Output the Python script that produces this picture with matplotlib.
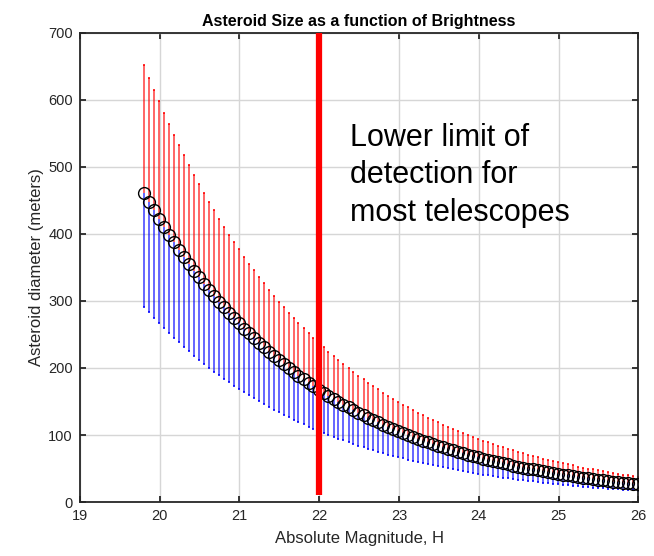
import matplotlib
matplotlib.use("Agg")
import matplotlib.pyplot as plt

plt.rcParams['font.family'] = ['Liberation Sans', 'DejaVu Sans']

# absolute magnitude H (100 points, 19.8 .. 26)
H = [19.800, 19.863, 19.925, 19.988, 20.051, 20.113, 20.176, 20.238, 20.301, 20.364,
     20.426, 20.489, 20.552, 20.614, 20.677, 20.739, 20.802, 20.865, 20.927, 20.990,
     21.053, 21.115, 21.178, 21.240, 21.303, 21.366, 21.428, 21.491, 21.554, 21.616,
     21.679, 21.741, 21.804, 21.867, 21.929, 21.992, 22.055, 22.117, 22.180, 22.242,
     22.305, 22.368, 22.430, 22.493, 22.556, 22.618, 22.681, 22.743, 22.806, 22.869,
     22.931, 22.994, 23.057, 23.119, 23.182, 23.244, 23.307, 23.370, 23.432, 23.495,
     23.558, 23.620, 23.683, 23.745, 23.808, 23.871, 23.933, 23.996, 24.059, 24.121,
     24.184, 24.246, 24.309, 24.372, 24.434, 24.497, 24.560, 24.622, 24.685, 24.747,
     24.810, 24.873, 24.935, 24.998, 25.061, 25.123, 25.186, 25.248, 25.311, 25.374,
     25.436, 25.499, 25.562, 25.624, 25.687, 25.749, 25.812, 25.875, 25.937, 26.000]

# nominal diameter in meters (black circles)
d_mid = [460.8, 447.7, 435.0, 422.6, 410.6, 398.9, 387.6, 376.6, 365.9, 355.5,
         345.4, 335.5, 326.0, 316.7, 307.7, 299.0, 290.5, 282.2, 274.2, 266.4,
         258.8, 251.5, 244.3, 237.4, 230.6, 224.1, 217.7, 211.5, 205.5, 199.7,
         194.0, 188.5, 183.1, 177.9, 172.9, 167.9, 163.2, 158.5, 154.0, 149.6,
         145.4, 141.3, 137.2, 133.3, 129.5, 125.9, 122.3, 118.8, 115.4, 112.1,
         109.0, 105.9, 102.9, 99.9, 97.1, 94.3, 91.7, 89.0, 86.5, 84.1,
         81.7, 79.3, 77.1, 74.9, 72.8, 70.7, 68.7, 66.7, 64.8, 63.0,
         61.2, 59.5, 57.8, 56.1, 54.5, 53.0, 51.5, 50.0, 48.6, 47.2,
         45.9, 44.6, 43.3, 42.1, 40.9, 39.7, 38.6, 37.5, 36.4, 35.4,
         34.4, 33.4, 32.5, 31.5, 30.6, 29.8, 28.9, 28.1, 27.3, 26.5]

# upper diameter (red stems)
d_high = [651.7, 633.1, 615.2, 597.7, 580.7, 564.1, 548.1, 532.6, 517.5, 502.7,
          488.4, 474.5, 461.0, 447.9, 435.2, 422.8, 410.8, 399.1, 387.8, 376.8,
          366.0, 355.6, 345.5, 335.7, 326.2, 316.9, 307.9, 299.1, 290.6, 282.4,
          274.3, 266.5, 259.0, 251.6, 244.4, 237.5, 230.7, 224.2, 217.8, 211.6,
          205.6, 199.8, 194.1, 188.6, 183.2, 178.0, 172.9, 168.0, 163.2, 158.6,
          154.1, 149.7, 145.5, 141.3, 137.3, 133.4, 129.6, 125.9, 122.3, 118.9,
          115.5, 112.2, 109.0, 105.9, 102.9, 100.0, 97.1, 94.4, 91.7, 89.1,
          86.6, 84.1, 81.7, 79.4, 77.1, 74.9, 72.8, 70.7, 68.7, 66.8,
          64.9, 63.0, 61.2, 59.5, 57.8, 56.2, 54.6, 53.0, 51.5, 50.0,
          48.6, 47.2, 45.9, 44.6, 43.3, 42.1, 40.9, 39.7, 38.6, 37.5]

# lower diameter (blue stems)
d_low = [291.4, 283.1, 275.1, 267.3, 259.7, 252.3, 245.1, 238.2, 231.4, 224.8,
         218.4, 212.2, 206.2, 200.3, 194.6, 189.1, 183.7, 178.5, 173.4, 168.5,
         163.7, 159.0, 154.5, 150.1, 145.9, 141.7, 137.7, 133.8, 130.0, 126.3,
         122.7, 119.2, 115.8, 112.5, 109.3, 106.2, 103.2, 100.3, 97.4, 94.6,
         91.9, 89.3, 86.8, 84.3, 81.9, 79.6, 77.3, 75.1, 73.0, 70.9,
         68.9, 67.0, 65.0, 63.2, 61.4, 59.7, 58.0, 56.3, 54.7, 53.2,
         51.6, 50.2, 48.8, 47.4, 46.0, 44.7, 43.4, 42.2, 41.0, 39.8,
         38.7, 37.6, 36.5, 35.5, 34.5, 33.5, 32.6, 31.6, 30.7, 29.9,
         29.0, 28.2, 27.4, 26.6, 25.8, 25.1, 24.4, 23.7, 23.0, 22.4,
         21.7, 21.1, 20.5, 19.9, 19.4, 18.8, 18.3, 17.8, 17.3, 16.8]

limit_H = 22.0
limit_y = [10, 700]

fig = plt.figure(figsize=(6.54, 5.56), dpi=100)
ax = fig.add_axes([0.122, 0.097, 0.854, 0.844])

# stems up (red) and down (blue)
ax.vlines(H, d_mid, d_high, colors='red', linewidth=1.2, alpha=0.7, zorder=2)
ax.plot(H, d_high, 's', color='red', markersize=2, markeredgewidth=0, alpha=0.8, zorder=2)
ax.vlines(H, d_low, d_mid, colors='blue', linewidth=1.2, alpha=0.7, zorder=2)
ax.plot(H, d_low, 's', color='blue', markersize=2, markeredgewidth=0, alpha=0.8, zorder=2)

# nominal size circles
ax.plot(H, d_mid, 'o', markerfacecolor='none', markeredgecolor='black',
        markersize=8.5, markeredgewidth=1.0, zorder=3)

# detection limit line
ax.plot([limit_H, limit_H], limit_y, color='red', linewidth=4.5, zorder=4,
        solid_capstyle='butt', clip_on=False)

ax.text(22.39, 566, "Lower limit of\ndetection for\nmost telescopes",
        fontsize=22, va='top', ha='left', linespacing=1.33, zorder=5)

ax.set_xlim(19, 26)
ax.set_ylim(0, 700)
ax.set_xticks(range(19, 27))
ax.set_yticks(range(0, 701, 100))
ax.grid(True, color='#d6d6d6', linewidth=1.0)
ax.set_axisbelow(True)
ax.tick_params(direction='in', top=True, right=True, length=4, width=1.3,
               labelsize=10.5, colors='#262626', labelcolor='#262626', pad=5)
for sp in ax.spines.values():
    sp.set_linewidth(1.3)
    sp.set_color('#262626')

ax.set_xlabel("Absolute Magnitude, H", fontsize=12, color='#262626', labelpad=6)
ax.set_ylabel("Asteroid diameter (meters)", fontsize=12, color='#262626', labelpad=3)
ax.set_title("Asteroid Size as a function of Brightness", fontsize=11.5,
             fontweight='bold', pad=5)

fig.savefig("out.png", dpi=100)
